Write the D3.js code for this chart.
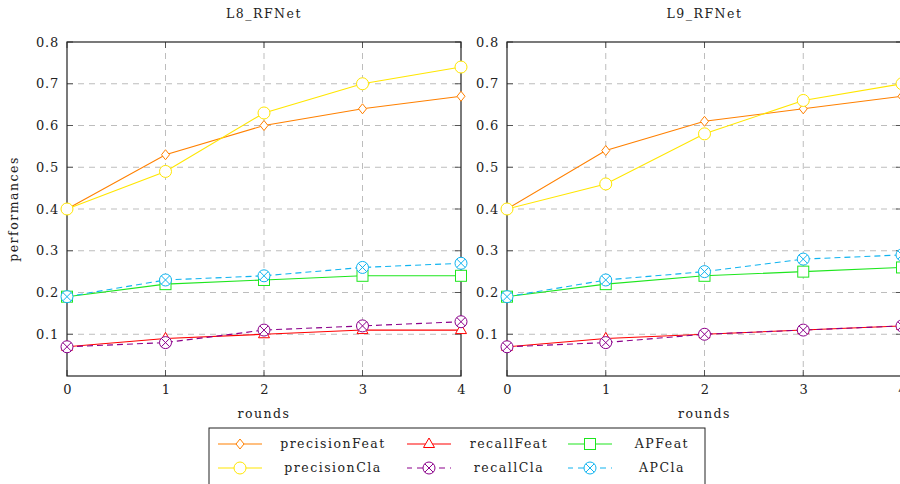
<!DOCTYPE html>
<html><head><meta charset="utf-8">
<script src="https://cdn.jsdelivr.net/npm/d3@7/dist/d3.min.js"></script>
<style>body{margin:0;background:#fff}svg{display:block}text{font-family:"DejaVu Serif",serif;fill:#222}</style>
</head><body><svg id="c" width="900" height="484"></svg>
<script>
const rounds = [0, 1, 2, 3, 4];
const yTicks = [0.1, 0.2, 0.3, 0.4, 0.5, 0.6, 0.7, 0.8];
const panelTitles = ["L8_RFNet", "L9_RFNet"];
const seriesNames = ["precisionFeat", "precisionCla", "recallFeat", "recallCla", "APFeat", "APCla"];
const L8_precisionFeat = [0.40, 0.53, 0.60, 0.64, 0.67];
const L8_precisionCla  = [0.40, 0.49, 0.63, 0.70, 0.74];
const L8_recallFeat    = [0.07, 0.09, 0.10, 0.11, 0.11];
const L8_recallCla     = [0.07, 0.08, 0.11, 0.12, 0.13];
const L8_APFeat        = [0.19, 0.22, 0.23, 0.24, 0.24];
const L8_APCla         = [0.19, 0.23, 0.24, 0.26, 0.27];
const L9_precisionFeat = [0.40, 0.54, 0.61, 0.64, 0.67];
const L9_precisionCla  = [0.40, 0.46, 0.58, 0.66, 0.70];
const L9_recallFeat    = [0.07, 0.09, 0.10, 0.11, 0.12];
const L9_recallCla     = [0.07, 0.08, 0.10, 0.11, 0.12];
const L9_APFeat        = [0.19, 0.22, 0.24, 0.25, 0.26];
const L9_APCla         = [0.19, 0.23, 0.25, 0.28, 0.29];

const panelData = [
  [L8_precisionFeat, L8_precisionCla, L8_recallFeat, L8_recallCla, L8_APFeat, L8_APCla],
  [L9_precisionFeat, L9_precisionCla, L9_recallFeat, L9_recallCla, L9_APFeat, L9_APCla]
];
const styles = {
  precisionFeat: {color: "#ff8000", mark: "diamond", dash: null},
  precisionCla:  {color: "#ffe600", mark: "circle", dash: null},
  recallFeat:    {color: "#ff0000", mark: "triangle", dash: null},
  recallCla:     {color: "#8b008b", mark: "otimes", dash: "6,4"},
  APFeat:        {color: "#1ee61e", mark: "square", dash: null},
  APCla:         {color: "#10b4f0", mark: "otimes", dash: "6,4"}
};
const FONT = "DejaVu Serif";

const svg = d3.select("#c");
const panelX = [[67, 461], [507, 902]];
const yTop = 42, yBot = 376;
const y = d3.scaleLinear().domain([0, 0.8]).range([yBot, yTop]);

function drawMark(g, kind, cx, cy, color) {
  if (kind === "circle") {
    g.append("circle").attr("cx", cx).attr("cy", cy).attr("r", 6).attr("fill", "#fff").attr("stroke", color).attr("stroke-width", 1);
  } else if (kind === "diamond") {
    g.append("path").attr("d", `M${cx},${cy-5}L${cx+4},${cy}L${cx},${cy+5}L${cx-4},${cy}Z`).attr("fill", "#fff").attr("stroke", color).attr("stroke-width", 1);
  } else if (kind === "triangle") {
    g.append("path").attr("d", `M${cx},${cy-6}L${cx+5.5},${cy+3.5}L${cx-5.5},${cy+3.5}Z`).attr("fill", "#fff").attr("stroke", color).attr("stroke-width", 1);
  } else if (kind === "square") {
    g.append("rect").attr("x", cx-5.5).attr("y", cy-5.5).attr("width", 11).attr("height", 11).attr("fill", "#fff").attr("stroke", color).attr("stroke-width", 1);
  } else if (kind === "otimes") {
    g.append("circle").attr("cx", cx).attr("cy", cy).attr("r", 6).attr("fill", "#fff").attr("stroke", color).attr("stroke-width", 1);
    const d = 4.2;
    g.append("path").attr("d", `M${cx-d},${cy-d}L${cx+d},${cy+d}M${cx-d},${cy+d}L${cx+d},${cy-d}`).attr("stroke", color).attr("stroke-width", 1);
  }
}

function styleText(sel, size, sp) {
  sel.style("font-family", FONT).style("font-size", size + "px").style("letter-spacing", sp + "px").attr("fill", "#2a2a2a");
}

panelData.forEach((series, p) => {
  const [x0, x1] = panelX[p];
  const x = d3.scaleLinear().domain([0, 4]).range([x0, x1]);
  const g = svg.append("g");
  // grid
  g.selectAll(".gx").data(rounds.slice(1, -1)).enter().append("line")
    .attr("x1", d => x(d)).attr("x2", d => x(d)).attr("y1", yTop).attr("y2", yBot)
    .attr("stroke", "#bdbdbd").attr("stroke-dasharray", "6,5").attr("stroke-width", 1);
  g.selectAll(".gy").data(yTicks.slice(0, -1)).enter().append("line")
    .attr("x1", x0).attr("x2", x1).attr("y1", d => y(d)).attr("y2", d => y(d))
    .attr("stroke", "#bdbdbd").attr("stroke-dasharray", "6,5").attr("stroke-width", 1);
  // axes via d3
  const ax = g.append("g").attr("transform", `translate(0,${yBot})`)
    .call(d3.axisBottom(x).tickValues(rounds).tickSize(0).tickPadding(9).tickFormat(d3.format("d")));
  ax.attr("font-family", FONT);
  ax.select(".domain").remove();
  styleText(ax.selectAll("text"), 13, 0);
  const ay = g.append("g").attr("transform", `translate(${x0},0)`)
    .call(d3.axisLeft(y).tickValues(yTicks).tickSize(0).tickPadding(8).tickFormat(d3.format(".1f")));
  ay.attr("font-family", FONT);
  ay.select(".domain").remove();
  styleText(ay.selectAll("text"), 13, 0.8);
  // inner ticks
  const tl = 6;
  yTicks.forEach(v => {
    g.append("line").attr("x1", x0).attr("x2", x0 + tl).attr("y1", y(v)).attr("y2", y(v)).attr("stroke", "#555");
    g.append("line").attr("x1", x1).attr("x2", x1 - tl).attr("y1", y(v)).attr("y2", y(v)).attr("stroke", "#555");
  });
  rounds.forEach(v => {
    g.append("line").attr("x1", x(v)).attr("x2", x(v)).attr("y1", yBot).attr("y2", yBot - tl).attr("stroke", "#555");
    g.append("line").attr("x1", x(v)).attr("x2", x(v)).attr("y1", yTop).attr("y2", yTop + tl).attr("stroke", "#555");
  });
  // frame
  g.append("rect").attr("x", x0).attr("y", yTop).attr("width", x1 - x0).attr("height", yBot - yTop)
    .attr("fill", "none").attr("stroke", "#222").attr("stroke-width", 1.2);
  // series
  const line = d3.line().x((d, i) => x(rounds[i])).y(d => y(d));
  series.forEach((vals, si) => {
    const st = styles[seriesNames[si]];
    const sg = g.append("g");
    sg.append("path").attr("d", line(vals)).attr("fill", "none").attr("stroke", st.color).attr("stroke-width", 1.1)
      .attr("stroke-dasharray", st.dash);
    vals.forEach((v, i) => drawMark(sg, st.mark, x(rounds[i]), y(v), st.color));
  });
  // titles
  const cx = (x0 + x1) / 2;
  styleText(svg.append("text").attr("x", cx).attr("y", 18).attr("text-anchor", "middle").text(panelTitles[p]), 12.5, 1.5);
  styleText(svg.append("text").attr("x", cx).attr("y", 418).attr("text-anchor", "middle").text("rounds"), 12.5, 1.5);
});
styleText(svg.append("text").attr("transform", `translate(18,${(yTop + yBot) / 2}) rotate(-90)`).attr("text-anchor", "middle")
  .text("performances"), 12.5, 1.5);

// legend
const lg = svg.append("g");
lg.append("rect").attr("x", 209).attr("y", 428).attr("width", 496).attr("height", 70).attr("fill", "#fff").attr("stroke", "#222").attr("stroke-width", 1);
const legendOrder = ["precisionFeat", "recallFeat", "APFeat", "precisionCla", "recallCla", "APCla"];
const colSample = [240, 429, 590];
const colText = [333, 509, 662];
const rowY = [444, 468];
legendOrder.forEach((name, k) => {
  const c = k % 3, r = Math.floor(k / 3);
  const st = styles[name];
  const cx = colSample[c], cy = rowY[r];
  lg.append("line").attr("x1", cx - 22).attr("x2", cx + 22).attr("y1", cy).attr("y2", cy)
    .attr("stroke", st.color).attr("stroke-width", 1.1).attr("stroke-dasharray", st.dash ? "6,5" : null)
    .attr("stroke-dashoffset", st.dash ? 1 : null);
  drawMark(lg, st.mark, cx, cy, st.color);
  styleText(lg.append("text").attr("x", colText[c]).attr("y", cy + 4).attr("text-anchor", "middle").text(name), 12.5, 1.5);
});
</script></body></html>
